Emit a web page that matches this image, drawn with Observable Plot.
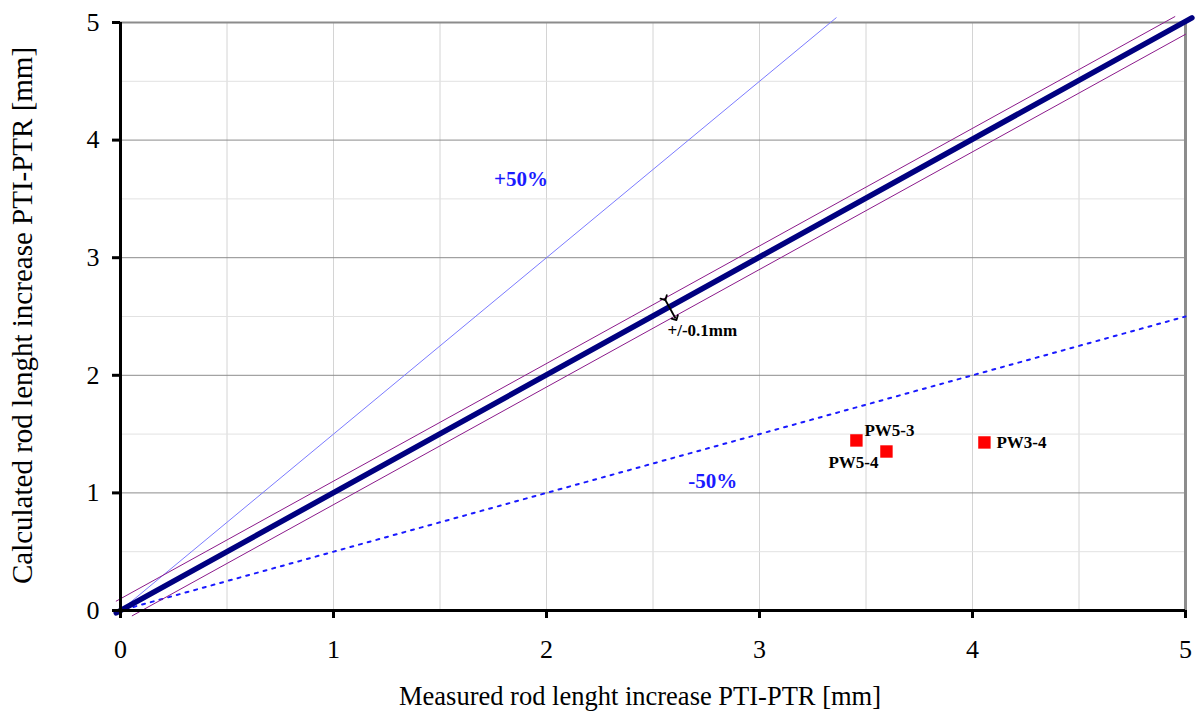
<!DOCTYPE html>
<html>
<head>
<meta charset="utf-8">
<script src="https://cdn.jsdelivr.net/npm/d3@7"></script>
<script src="https://cdn.jsdelivr.net/npm/@observablehq/plot@0.6"></script>
<style>
  html, body { margin: 0; padding: 0; background: #fff; }
  #chart svg { display: block; }
</style>
</head>
<body>
<div id="chart"></div>
<script>
// ---- data ----
const specimens = ["PW5-3", "PW5-4", "PW3-4"];
const measured = [3.455, 3.596, 4.056];
const calculated = [1.446, 1.352, 1.429];

const ticks = [0, 1, 2, 3, 4, 5];
const minorTicks = [0.5, 1.5, 2.5, 3.5, 4.5];

// reference lines (end points in data units)
const equalityX = [-0.02, 5.03];
const equalityY = [-0.02, 5.04];
const upperTolX = [-0.02, 4.95];
const upperTolY = [0.08, 5.05];
const lowerTolX = [0.055, 5.0];
const lowerTolY = [-0.045, 4.9];
const plus50X = [0, 3.36];
const plus50Y = [0, 5.04];
const minus50X = [0.02, 5.0];
const minus50Y = [0.01, 2.5];
const tolArrowX = [2.554, 2.606];
const tolArrowY = [2.653, 2.483];

const annotations = ["+50%", "-50%", "+/-0.1mm"];
const annotX = [1.88, 2.78, 2.568];
const annotY = [3.67, 1.097, 2.38];

const pts = specimens.map((s, i) => ({name: s, x: measured[i], y: calculated[i]}));
const seg = (xs, ys) => xs.map((x, i) => ({x, y: ys[i]}));
const ann = annotations.map((t, i) => ({t, x: annotX[i], y: annotY[i]}));

const font = "'Liberation Serif', 'Times New Roman', serif";

const chart = Plot.plot({
  width: 1195,
  height: 716,
  marginLeft: 120,
  marginRight: 10,
  marginTop: 22,
  marginBottom: 106,
  style: {fontFamily: font, background: "#fff", overflow: "visible"},
  x: {domain: [0, 5]},
  y: {domain: [0, 5]},
  marks: [
    // grid
    Plot.ruleX([...minorTicks, 1, 2, 3, 4], {stroke: "#d4d4d4", strokeWidth: 1}),
    Plot.ruleY(minorTicks, {stroke: "#e2e2e2", strokeWidth: 1}),
    Plot.ruleY([1, 2, 3, 4], {stroke: "#8c8c8c", strokeWidth: 1}),
    Plot.ruleY([5], {stroke: "#8c8c8c", strokeWidth: 2}),
    Plot.ruleX([5], {stroke: "#8c8c8c", strokeWidth: 3}),
    // reference lines
    Plot.line(seg(plus50X, plus50Y), {x: "x", y: "y", stroke: "#7b7bff", strokeWidth: 1}),
    Plot.line(seg(minus50X, minus50Y), {x: "x", y: "y", stroke: "#1a1aff", strokeWidth: 2, strokeDasharray: "3,6"}),
    Plot.line(seg(upperTolX, upperTolY), {x: "x", y: "y", stroke: "#8b1a8b", strokeWidth: 1}),
    Plot.line(seg(lowerTolX, lowerTolY), {x: "x", y: "y", stroke: "#8b1a8b", strokeWidth: 1}),
    Plot.line(seg(equalityX, equalityY), {x: "x", y: "y", stroke: "#000080", strokeWidth: 5.5}),
    Plot.link([0], {x1: () => tolArrowX[0], y1: () => tolArrowY[0], x2: () => tolArrowX[1], y2: () => tolArrowY[1],
      stroke: "#000", strokeWidth: 1.8, markerStart: "arrow", markerEnd: "arrow"}),
    // axes
    Plot.ruleX([0], {stroke: "#000", strokeWidth: 3}),
    Plot.ruleY([0], {stroke: "#000", strokeWidth: 3, x1: -0.035, x2: 5}),
    Plot.axisX(ticks, {tickSize: 8, tickPadding: 21, fontSize: 26, strokeWidth: 3, tickFormat: "d", label: null}),
    Plot.axisY(ticks, {tickSize: 8, tickPadding: 13, fontSize: 26, strokeWidth: 3, tickFormat: "d", label: null}),
    Plot.text(["Measured rod lenght increase PTI-PTR [mm]"], {frameAnchor: "bottom", dx: -13, dy: 94, fontSize: 26.5, fill: "#000"}),
    Plot.text(["Calculated rod lenght increase PTI-PTR [mm]"], {frameAnchor: "left", textAnchor: "middle", dx: -98, dy: -1, rotate: -90, fontSize: 29, fill: "#000"}),
    // annotations
    Plot.text(ann.slice(0, 2), {x: "x", y: "y", text: "t", fill: "#1a1aff", fontSize: 21, fontWeight: "bold"}),
    Plot.text(ann.slice(2), {x: "x", y: "y", text: "t", fill: "#000", fontSize: 17, fontWeight: "bold", textAnchor: "start"}),
    // data points
    Plot.dot(pts, {x: "x", y: "y", symbol: "square", r: 7, fill: "#ff0000", stroke: "none"}),
    Plot.text(pts.filter(d => d.name === "PW5-3"), {x: "x", y: "y", text: "name", textAnchor: "start", dx: 8, dy: -10, fontSize: 17, fontWeight: "bold", fill: "#000"}),
    Plot.text(pts.filter(d => d.name === "PW5-4"), {x: "x", y: "y", text: "name", textAnchor: "end", dx: -8, dy: 11, fontSize: 17, fontWeight: "bold", fill: "#000"}),
    Plot.text(pts.filter(d => d.name === "PW3-4"), {x: "x", y: "y", text: "name", textAnchor: "start", dx: 12, dy: 0, fontSize: 17, fontWeight: "bold", fill: "#000"})
  ]
});
document.getElementById("chart").appendChild(chart);
</script>
</body>
</html>
